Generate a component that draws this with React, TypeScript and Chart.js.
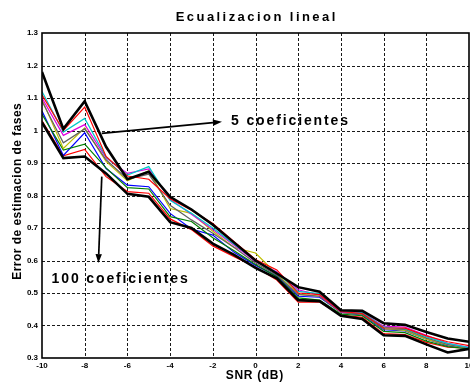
import React, { useEffect, useRef } from "react";
import { Chart, registerables } from "chart.js";

Chart.register(...registerables);

const SNR = [-10, -9, -8, -7, -6, -5, -4, -3, -2, -1, 0, 1, 2, 3, 4, 5, 6, 7, 8, 9, 10];

const TITLE = "Ecualizacion lineal";
const X_LABEL = "SNR (dB)";
const Y_LABEL = "Error de estimacion de fases";
const X_MIN = -10;
const X_MAX = 10;
const X_STEP = 2;
const Y_MIN = 0.3;
const Y_MAX = 1.3;
const Y_STEP = 0.1;

const coef5 = [1.18, 1.005, 1.09, 0.95, 0.85, 0.873, 0.796, 0.757, 0.71, 0.655, 0.6, 0.56, 0.518, 0.504, 0.447, 0.445, 0.407, 0.402, 0.38, 0.36, 0.35];
const coef10 = [1.11, 1.0, 1.072, 0.92, 0.86, 0.85, 0.79, 0.755, 0.714, 0.658, 0.603, 0.571, 0.5, 0.495, 0.443, 0.437, 0.393, 0.392, 0.368, 0.35, 0.338];
const coef15 = [1.12, 0.995, 1.037, 0.918, 0.863, 0.889, 0.785, 0.745, 0.7, 0.65, 0.6, 0.562, 0.505, 0.498, 0.445, 0.44, 0.395, 0.39, 0.365, 0.345, 0.332];
const coef20 = [1.1, 0.985, 1.018, 0.916, 0.868, 0.882, 0.788, 0.742, 0.695, 0.647, 0.597, 0.565, 0.51, 0.494, 0.442, 0.44, 0.398, 0.395, 0.37, 0.345, 0.333];
const coef25 = [1.09, 0.962, 1.005, 0.91, 0.85, 0.866, 0.77, 0.725, 0.684, 0.64, 0.592, 0.555, 0.495, 0.49, 0.44, 0.435, 0.39, 0.388, 0.362, 0.342, 0.33];
const coef30 = [1.095, 0.945, 1.008, 0.905, 0.845, 0.876, 0.76, 0.745, 0.69, 0.64, 0.623, 0.558, 0.497, 0.49, 0.44, 0.435, 0.39, 0.385, 0.358, 0.34, 0.33];
const coef40 = [1.05, 0.94, 0.958, 0.885, 0.824, 0.82, 0.735, 0.72, 0.67, 0.63, 0.588, 0.55, 0.485, 0.478, 0.435, 0.43, 0.382, 0.378, 0.352, 0.335, 0.328];
const coef50 = [1.06, 0.923, 0.993, 0.883, 0.832, 0.827, 0.745, 0.697, 0.678, 0.625, 0.585, 0.552, 0.49, 0.487, 0.44, 0.432, 0.387, 0.383, 0.358, 0.338, 0.328];
const coef75 = [1.03, 0.922, 0.942, 0.858, 0.812, 0.807, 0.728, 0.695, 0.645, 0.612, 0.58, 0.54, 0.472, 0.472, 0.432, 0.425, 0.375, 0.372, 0.348, 0.333, 0.33];
const coef100 = [1.025, 0.915, 0.92, 0.868, 0.805, 0.796, 0.718, 0.7, 0.652, 0.617, 0.577, 0.545, 0.478, 0.475, 0.43, 0.42, 0.37, 0.368, 0.342, 0.317, 0.328];

const SERIES = [
  { label: "5 coeficientes", data: coef5, color: "#000000", width: 2.6 },
  { label: "100 coeficientes", data: coef100, color: "#000000", width: 2.6 },
  { label: "10 coeficientes", data: coef10, color: "#ff0000", width: 1.2 },
  { label: "15 coeficientes", data: coef15, color: "#00c8c8", width: 1.2 },
  { label: "20 coeficientes", data: coef20, color: "#e000e0", width: 1.2 },
  { label: "25 coeficientes", data: coef25, color: "#606060", width: 1.2 },
  { label: "30 coeficientes", data: coef30, color: "#bfbf00", width: 1.2 },
  { label: "40 coeficientes", data: coef40, color: "#008000", width: 1.2 },
  { label: "50 coeficientes", data: coef50, color: "#0000ff", width: 1.2 },
  { label: "75 coeficientes", data: coef75, color: "#ff0000", width: 1.2 },
];

const ANNOT_5 = { text: "5 coeficientes", from: [-7.2, 0.991], to: [-1.57, 1.027], textAt: [-1.15, 1.029] };
const ANNOT_100 = { text: "100 coeficientes", from: [-7.2, 0.858], to: [-7.36, 0.592], textAt: [-9.55, 0.543] };

const FONT = "Arial, 'Liberation Sans', Helvetica, sans-serif";

function drawSpaced(ctx: any, text: string, x: number, y: number, size: number, targetW: number, align: "left" | "center") {
  ctx.save();
  ctx.font = `bold ${size}px ${FONT}`;
  ctx.letterSpacing = "0px";
  const w = ctx.measureText(text).width;
  const ls = (targetW - w) / text.length;
  ctx.letterSpacing = `${ls}px`;
  ctx.fillStyle = "#000";
  ctx.textBaseline = "middle";
  ctx.textAlign = "left";
  const x0 = align === "center" ? x - targetW / 2 + ls / 2 : x;
  ctx.fillText(text, x0, y);
  ctx.restore();
}

function arrow(ctx: any, x1: number, y1: number, x2: number, y2: number) {
  const ang = Math.atan2(y2 - y1, x2 - x1);
  const L = 9, W = 3.2;
  const bx = x2 - L * Math.cos(ang), by = y2 - L * Math.sin(ang);
  ctx.save();
  ctx.strokeStyle = "#000";
  ctx.fillStyle = "#000";
  ctx.lineWidth = 1.7;
  ctx.beginPath();
  ctx.moveTo(x1, y1);
  ctx.lineTo(bx, by);
  ctx.stroke();
  ctx.beginPath();
  ctx.moveTo(x2, y2);
  ctx.lineTo(bx + W * Math.sin(ang), by - W * Math.cos(ang));
  ctx.lineTo(bx - W * Math.sin(ang), by + W * Math.cos(ang));
  ctx.closePath();
  ctx.fill();
  ctx.restore();
}

const decor = {
  id: "decor",
  beforeDatasetsDraw(chart: any) {
    const { ctx, chartArea: a, scales } = chart;
    const xs = scales.x, ys = scales.y;
    ctx.save();
    ctx.strokeStyle = "#1a1a1a";
    ctx.lineWidth = 1;
    ctx.setLineDash([3, 2]);
    xs.ticks.forEach((t: any) => {
      if (t.value <= X_MIN || t.value >= X_MAX) return;
      const px = Math.round(xs.getPixelForValue(t.value)) + 0.5;
      ctx.beginPath();
      ctx.moveTo(px, a.top);
      ctx.lineTo(px, a.bottom);
      ctx.stroke();
    });
    ys.ticks.forEach((t: any) => {
      if (t.value <= Y_MIN + 1e-9 || t.value >= Y_MAX - 1e-9) return;
      const py = Math.round(ys.getPixelForValue(t.value)) + 0.5;
      ctx.beginPath();
      ctx.moveTo(a.left, py);
      ctx.lineTo(a.right, py);
      ctx.stroke();
    });
    ctx.restore();
  },
  afterDraw(chart: any) {
    const { ctx, chartArea: a, scales } = chart;
    const xs = scales.x, ys = scales.y;
    ctx.save();
    ctx.strokeStyle = "#000";
    ctx.lineWidth = 1.6;
    ctx.strokeRect(a.left, a.top, a.right - a.left, a.bottom - a.top);
    ctx.restore();

    const cx = (a.left + a.right) / 2;
    drawSpaced(ctx, TITLE, cx, 17, 13, 162, "center");
    drawSpaced(ctx, X_LABEL, cx - 1, 376, 12, 58, "center");
    ctx.save();
    ctx.translate(18, (a.top + a.bottom) / 2 - 4);
    ctx.rotate(-Math.PI / 2);
    drawSpaced(ctx, Y_LABEL, 0, 0, 12, 177, "center");
    ctx.restore();

    for (const an of [ANNOT_5, ANNOT_100]) {
      arrow(
        ctx,
        xs.getPixelForValue(an.from[0]),
        ys.getPixelForValue(an.from[1]),
        xs.getPixelForValue(an.to[0]),
        ys.getPixelForValue(an.to[1])
      );
      const w = an.text === ANNOT_5.text ? 119 : 138;
      drawSpaced(ctx, an.text, xs.getPixelForValue(an.textAt[0]), ys.getPixelForValue(an.textAt[1]), 14, w, "left");
    }
  },
};

export default function App() {
  const ref = useRef<HTMLCanvasElement | null>(null);
  useEffect(() => {
    document.body.style.margin = "0";
    const canvas = ref.current;
    if (!canvas) return;
    const chart = new Chart(canvas, {
      type: "line",
      data: {
        datasets: SERIES.map((s) => ({
          label: s.label,
          data: SNR.map((x, i) => ({ x, y: s.data[i] })),
          borderColor: s.color,
          backgroundColor: s.color,
          borderWidth: s.width,
          pointRadius: 0,
          tension: 0,
          fill: false,
        })),
      },
      options: {
        animation: false,
        responsive: false,
        devicePixelRatio: 1,
        layout: { padding: { top: 33, right: 1, left: 0, bottom: 0 } },
        plugins: { legend: { display: false }, title: { display: false }, tooltip: { enabled: false } },
        scales: {
          x: {
            type: "linear",
            min: X_MIN,
            max: X_MAX,
            grid: { display: false, drawTicks: false },
            border: { display: false },
            ticks: {
              stepSize: X_STEP,
              maxRotation: 0,
              autoSkip: false,
              padding: 3,
              color: "#000",
              font: { family: FONT, size: 8, weight: "bold" },
            },
            afterFit: (s: any) => {
              s.height = 25;
              s.paddingLeft = 0;
              s.paddingRight = 0;
            },
          },
          y: {
            type: "linear",
            min: Y_MIN,
            max: Y_MAX,
            grid: { display: false, drawTicks: false },
            border: { display: false },
            ticks: {
              stepSize: Y_STEP,
              padding: 4,
              color: "#000",
              font: { family: FONT, size: 8, weight: "bold" },
              callback: (v: any) => String(parseFloat(Number(v).toFixed(1))),
            },
            afterFit: (s: any) => {
              s.width = 42;
              s.paddingTop = 0;
              s.paddingBottom = 0;
            },
          },
        },
      } as any,
      plugins: [decor],
    });
    return () => chart.destroy();
  }, []);
  return (
    <div style={{ width: 470, height: 383 }}>
      <canvas ref={ref} width={470} height={383} style={{ display: "block" }} />
    </div>
  );
}
